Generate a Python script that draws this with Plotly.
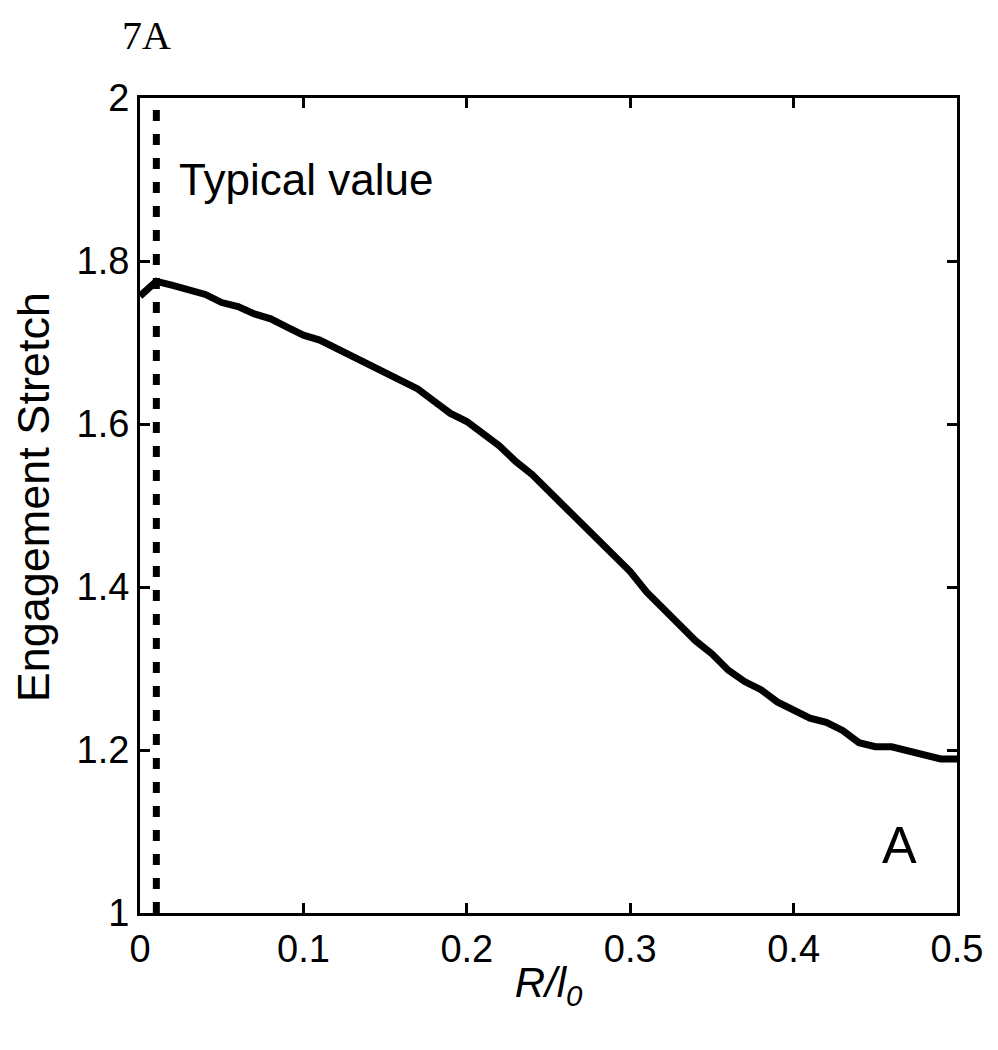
import plotly.graph_objects as go

# R/l0 values and engagement stretch
r_over_l0 = [0.00, 0.01, 0.02, 0.03, 0.04, 0.05, 0.06, 0.07, 0.08, 0.09,
             0.10, 0.11, 0.12, 0.13, 0.14, 0.15, 0.16, 0.17, 0.18, 0.19,
             0.20, 0.21, 0.22, 0.23, 0.24, 0.25, 0.26, 0.27, 0.28, 0.29,
             0.30, 0.31, 0.32, 0.33, 0.34, 0.35, 0.36, 0.37, 0.38, 0.39,
             0.40, 0.41, 0.42, 0.43, 0.44, 0.45, 0.46, 0.47, 0.48, 0.49, 0.50]
stretch = [1.757, 1.775, 1.770, 1.765, 1.759, 1.749, 1.744, 1.735, 1.729, 1.719,
           1.709, 1.703, 1.693, 1.683, 1.673, 1.663, 1.653, 1.643, 1.628, 1.613,
           1.603, 1.589, 1.573, 1.554, 1.538, 1.518, 1.498, 1.478, 1.458, 1.439,
           1.419, 1.394, 1.374, 1.354, 1.334, 1.318, 1.298, 1.284, 1.274, 1.259,
           1.249, 1.239, 1.234, 1.224, 1.209, 1.204, 1.204, 1.199, 1.194, 1.189, 1.189]

typical_x = [0.01, 0.01]
typical_y = [1.0, 2.0]

x_ticks = [0, 0.1, 0.2, 0.3, 0.4, 0.5]
x_ticktext = ["0", "0.1", "0.2", "0.3", "0.4", "0.5"]
y_ticks = [1, 1.2, 1.4, 1.6, 1.8, 2]
y_ticktext = ["1", "1.2", "1.4", "1.6", "1.8", "2"]

fig = go.Figure()

# dotted marker for the typical value
fig.add_trace(go.Scatter(x=typical_x, y=typical_y, mode='lines',
                         line=dict(color='black', width=7, dash='11px,13px'),
                         showlegend=False))

# main curve
fig.add_trace(go.Scatter(x=r_over_l0, y=stretch, mode='lines',
                         line=dict(color='black', width=7),
                         showlegend=False))

fig.update_layout(
    width=998, height=1050,
    margin=dict(l=132, r=49, t=90, b=145),
    paper_bgcolor='white', plot_bgcolor='white',
    font=dict(family="Liberation Sans, Arial, sans-serif", size=38, color="black"),
    annotations=[
        dict(text="7A", xref='paper', yref='paper', x=-0.025, y=1.077,
             xanchor='left', yanchor='middle', showarrow=False,
             font=dict(family="Liberation Serif, Times New Roman, serif", size=40)),
        dict(text="Typical value", x=0.0225, y=1.9, xanchor='left', yanchor='middle',
             showarrow=False, font=dict(size=44)),
        dict(text="A", x=0.465, y=1.084, xanchor='center', yanchor='middle',
             showarrow=False, font=dict(size=52)),
        # y axis title placed by hand so it sits close to the page edge like the original
        dict(text="Engagement Stretch", xref='paper', yref='paper', x=-0.131, y=0.51,
             xanchor='center', yanchor='middle', textangle=-90, showarrow=False,
             font=dict(size=45)),
    ],
)

fig.update_xaxes(range=[0, 0.5], tickvals=x_ticks, ticktext=x_ticktext,
                 showgrid=False, zeroline=False, showline=True, linecolor='black',
                 linewidth=3, mirror='ticks', ticks='inside', ticklen=10,
                 tickwidth=3, tickcolor='black',
                 title=dict(text="<i>R/l<sub>0</sub></i>", font=dict(size=42), standoff=0))
fig.update_yaxes(range=[1, 2], tickvals=y_ticks, ticktext=y_ticktext,
                 showgrid=False, zeroline=False, showline=True, linecolor='black',
                 linewidth=3, mirror='ticks', ticks='inside', ticklen=10,
                 tickwidth=3, tickcolor='black')

fig.write_html("out.html")
